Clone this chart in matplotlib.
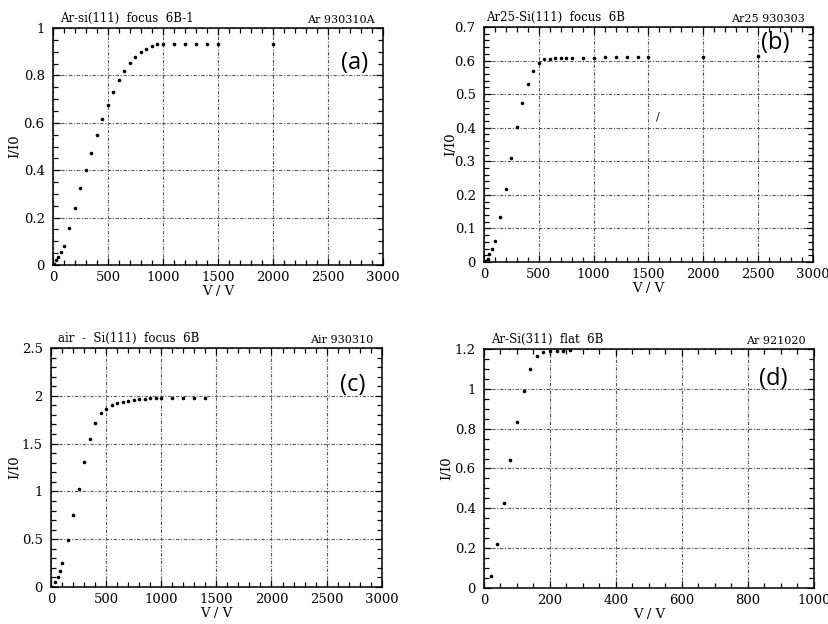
import numpy as np
import matplotlib
matplotlib.use("Agg")
import matplotlib.pyplot as plt
from matplotlib.ticker import MultipleLocator, FormatStrFormatter

# data
a_v = [5, 25, 50, 75, 100, 150, 200, 250, 300, 350, 400, 450, 500, 550, 600, 650, 700,
       750, 800, 850, 900, 950, 1000, 1100, 1200, 1300, 1400, 1500, 2000]
a_i = [0.005, 0.02, 0.035, 0.055, 0.08, 0.157, 0.242, 0.323, 0.400, 0.473, 0.549, 0.617,
       0.676, 0.732, 0.779, 0.819, 0.854, 0.878, 0.899, 0.913, 0.926, 0.933, 0.933, 0.933,
       0.933, 0.933, 0.933, 0.933, 0.933]

b_v = [15, 35, 50, 75, 100, 150, 200, 250, 300, 350, 400, 450, 500, 550, 600, 650, 700,
       750, 800, 900, 1000, 1100, 1200, 1300, 1400, 1500, 2000, 2500]
b_i = [0.003, 0.01, 0.023, 0.04, 0.062, 0.133, 0.218, 0.309, 0.402, 0.473, 0.529, 0.570,
       0.592, 0.604, 0.606, 0.607, 0.607, 0.608, 0.608, 0.609, 0.609, 0.610, 0.610, 0.610,
       0.610, 0.611, 0.612, 0.614]

c_v = [20, 40, 60, 80, 100, 150, 200, 250, 300, 350, 400, 450, 500, 550, 600, 650, 700,
       750, 800, 850, 900, 950, 1000, 1100, 1200, 1300, 1400]
c_i = [0.003, 0.052, 0.108, 0.17, 0.254, 0.487, 0.751, 1.029, 1.304, 1.547, 1.711, 1.818,
       1.867, 1.909, 1.926, 1.94, 1.95, 1.96, 1.968, 1.971, 1.975, 1.978, 1.978, 1.982,
       1.982, 1.982, 1.982]

d_v = [20, 40, 60, 80, 100, 120, 140, 160, 180, 200, 220, 240, 260]
d_i = [0.062, 0.222, 0.428, 0.645, 0.834, 0.987, 1.101, 1.165, 1.187, 1.19, 1.19, 1.191, 1.193]

titles = ["Ar-si(111)  focus  6B-1", "Ar25-Si(111)  focus  6B",
          "air  -  Si(111)  focus  6B", "Ar-Si(311)  flat  6B"]
runs = ["Ar 930310A", "Ar25 930303", "Air 930310", "Ar 921020"]
letters = ["(a)", "(b)", "(c)", "(d)"]

serif = "DejaVu Serif"

fig = plt.figure(figsize=(8.29, 6.24), dpi=100)

# [left, bottom, width, height], xmax, ymax, x major/minor, y major/minor, letter pos, ylabel x
panels = [
    (a_v, a_i, [0.0639, 0.5753, 0.398, 0.3798], 3000, 1.0, 500, 100, 0.2, 0.05, (0.915, 0.852), -0.096),
    (b_v, b_i, [0.5838, 0.5801, 0.3969, 0.3766], 3000, 0.7, 500, 100, 0.1, 0.02, (0.885, 0.93), -0.08),
    (c_v, c_i, [0.0615, 0.0593, 0.399, 0.383], 3000, 2.5, 500, 100, 0.5, 0.1, (0.913, 0.845), -0.09),
    (d_v, d_i, [0.5838, 0.0577, 0.398, 0.383], 1000, 1.2, 200, 50, 0.2, 0.05, (0.876, 0.874), -0.094),
]

for k, (xv, yv, rect, xmax, ymax, xM, xm, yM, ym, lpos, ylx) in enumerate(panels):
    ax = fig.add_axes(rect)
    ax.plot(xv, yv, 'o', color='black', markersize=2.6, markeredgewidth=0, zorder=3)
    ax.set_xlim(0, xmax)
    ax.set_ylim(0, ymax)
    ax.xaxis.set_major_locator(MultipleLocator(xM))
    ax.xaxis.set_minor_locator(MultipleLocator(xm))
    ax.yaxis.set_major_locator(MultipleLocator(yM))
    ax.yaxis.set_minor_locator(MultipleLocator(ym))
    ax.yaxis.set_major_formatter(FormatStrFormatter('%g'))
    ax.grid(True, which='major', color='0.35', linestyle=(0, (3, 1.5, 1, 1.5)), linewidth=0.8)
    ax.tick_params(which='both', direction='in', top=True, right=True, width=0.9,
                   labelsize=9.5, colors='black')
    ax.tick_params(which='major', length=5)
    ax.tick_params(which='minor', length=3.5)
    ax.tick_params(axis='y', pad=6)
    ax.tick_params(axis='x', pad=4)
    for lab in ax.get_xticklabels() + ax.get_yticklabels():
        lab.set_family(serif)
    for s in ax.spines.values():
        s.set_linewidth(1.1)
    ax.set_xlabel("V / V", family=serif, fontsize=9.5, labelpad=1)
    ax.set_ylabel("I/I0", family=serif, fontsize=9.5)
    ax.yaxis.set_label_coords(ylx, 0.5)
    ax.text(0.02 if k != 1 else 0.005, 1.012, titles[k], transform=ax.transAxes,
            family=serif, fontsize=8.5, ha='left', va='bottom')
    ax.text(0.975, 1.012, runs[k], transform=ax.transAxes,
            family=serif, fontsize=8, ha='right', va='bottom')
    ax.text(lpos[0], lpos[1], letters[k], transform=ax.transAxes,
            family="Open Sans", fontsize=17, ha='center', va='center')
    if k == 1:
        # small stray mark on the scan
        ax.text(1588, 0.433, "/", family=serif, fontsize=8, ha='center', va='center')

fig.savefig("out.png", dpi=100)
